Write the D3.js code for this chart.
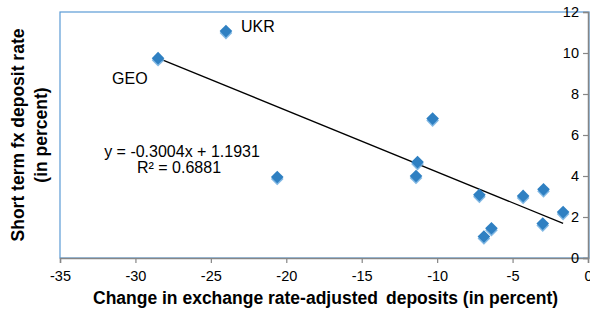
<!DOCTYPE html>
<html><head><meta charset="utf-8">
<script src="https://cdn.jsdelivr.net/npm/d3@7"></script>
<style>body{margin:0;background:#fff}svg{display:block;font-family:"Liberation Sans",Arial,sans-serif}</style>
</head><body><svg id="c" width="590" height="311"></svg>
<script>
const xValues = [-28.5, -24.0, -20.6, -11.3, -11.4, -10.3, -7.2, -6.9, -6.4, -4.3, -2.95, -3.0, -1.65];
const yValues = [9.75, 11.07, 3.95, 4.68, 4.0, 6.8, 3.08, 1.05, 1.45, 3.03, 3.35, 1.68, 2.24];
const pointLabels = ["GEO", "UKR", "", "", "", "", "", "", "", "", "", "", ""];
const xTicks = [-35, -30, -25, -20, -15, -10, -5, 0];
const yTicks = [0, 2, 4, 6, 8, 10, 12];
const slope = -0.3004, intercept = 1.1931;
const eqText = "y = -0.3004x + 1.1931";
const r2Text = "R\u00b2 = 0.6881";
const xTitleWords = ["Change", "in exchange", "rate-adjusted", "deposits (in percent)"];
const yTitle1 = "Short term fx deposit rate";
const yTitle2 = "(in percent)";

const svg = d3.select("#c");
const L = 60, R = 588, T = 12, B = 258;
const x = d3.scaleLinear().domain([-35, 0]).range([L, R]);
const y = d3.scaleLinear().domain([0, 12]).range([B, T]);

// plot area border
svg.append("rect").attr("x", L).attr("y", T).attr("width", R - L + 1).attr("height", B - T)
  .attr("fill", "none").attr("stroke", "#5b9bd5").attr("stroke-width", 1.2);

// x axis
const xa = svg.append("g").attr("transform", `translate(0,${B})`)
  .call(d3.axisBottom(x).tickValues(xTicks).tickSize(5).tickFormat(d3.format("d")));
xa.select(".domain").attr("stroke", "#868686").attr("stroke-width", 1.5);
xa.selectAll(".tick line").attr("stroke", "#868686").attr("stroke-width", 1.2);
xa.selectAll("text").attr("font-size", 14.5).attr("fill", "#000").attr("dy", "1.05em")
  .attr("font-family", "Liberation Sans, Arial, sans-serif").text(d => d < 0 ? "-" + Math.abs(d) : d);

// y axis at x=0
const ya = svg.append("g").attr("transform", `translate(${x(0)},0)`)
  .call(d3.axisLeft(y).tickValues(yTicks).tickSize(5).tickPadding(4));
ya.select(".domain").attr("stroke", "#868686").attr("stroke-width", 1.5);
ya.selectAll(".tick line").attr("stroke", "#868686").attr("stroke-width", 1.2);
ya.selectAll("text").attr("font-size", 14.5).attr("fill", "#000")
  .attr("font-family", "Liberation Sans, Arial, sans-serif");

// trend line
const xmin = d3.min(xValues), xmax = d3.max(xValues);
svg.append("line").attr("x1", x(xmin)).attr("y1", y(slope * xmin + intercept))
  .attr("x2", x(xmax)).attr("y2", y(slope * xmax + intercept))
  .attr("stroke", "#000").attr("stroke-width", 1.3);

// markers
const diamond = d3.symbol().type(d3.symbolSquare).size(80)();
const pts = xValues.map((v, i) => ({x: v, y: yValues[i], label: pointLabels[i]}));
const g = svg.append("g");
pts.forEach(p => {
  g.append("path").attr("d", diamond)
    .attr("transform", `translate(${x(p.x)},${y(p.y) + 2}) rotate(45)`)
    .attr("fill", "#6aaade").attr("opacity", 0.85);
  g.append("path").attr("d", diamond)
    .attr("transform", `translate(${x(p.x)},${y(p.y)}) rotate(45)`)
    .attr("fill", "#2f80c2");
});

// point labels
svg.append("text").attr("x", x(xValues[1]) + 15).attr("y", y(yValues[1]) + 1)
  .attr("font-size", 16).text(pointLabels[1]);
svg.append("text").attr("x", x(xValues[0]) - 46).attr("y", y(yValues[0]) + 26)
  .attr("font-size", 16).text(pointLabels[0]);

// equation
svg.append("text").attr("x", 182).attr("y", 157).attr("text-anchor", "middle")
  .attr("font-size", 16).text(eqText);
svg.append("text").attr("x", 179).attr("y", 173).attr("text-anchor", "middle")
  .attr("font-size", 16).text(r2Text);

// x axis title: words placed with the wider gaps of the original
const wordStarts = [93, 162, 268, 386];
const xt = svg.append("text").attr("y", 304).attr("font-size", 17.5).attr("font-weight", "bold");
xTitleWords.forEach((w, i) => xt.append("tspan").attr("x", wordStarts[i]).text(w));

const yt = svg.append("g").attr("transform", `translate(0,${(T + B) / 2}) rotate(-90)`);
yt.append("text").attr("x", 0).attr("y", 24).attr("text-anchor", "middle")
  .attr("font-size", 17.5).attr("font-weight", "bold").text(yTitle1);
yt.append("text").attr("x", 0).attr("y", 47).attr("text-anchor", "middle")
  .attr("font-size", 17.5).attr("font-weight", "bold").text(yTitle2);
</script></body></html>
